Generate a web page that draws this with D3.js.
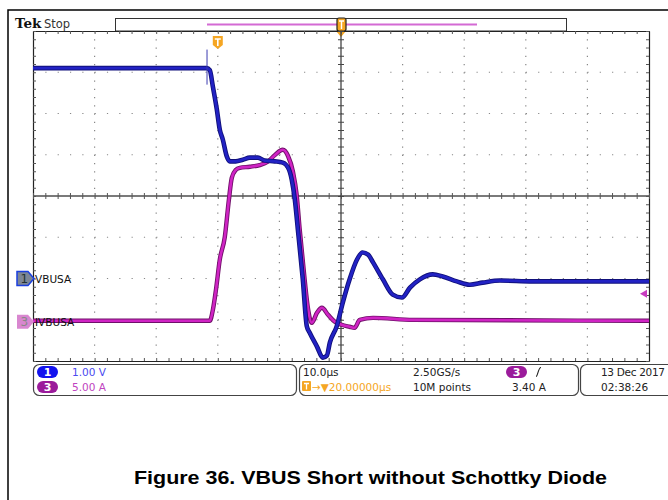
<!DOCTYPE html>
<html>
<head>
<meta charset="utf-8">
<script src="https://cdn.jsdelivr.net/npm/d3@7"></script>
<style>
  body { margin: 0; background: #fff; }
  text { font-family: "DejaVu Sans", sans-serif; }
</style>
</head>
<body>
<div id="chart"></div>
<script>
"use strict";

// channel 1 (VBUSA), volts vs time in µs relative to trigger
const ch1Time = [-30, -1.8, -1.3, -0.8, -0.16, 0.32, 0.81, 1.46, 1.95, 2.9, 4.06, 5.2, 6.5, 7.6, 9.25, 10.55,
  11.4, 12.0, 12.5, 13.0, 13.8, 14.45, 14.9, 16.1, 17.05, 17.7, 18.2, 19.3, 20.3, 21.4, 22.6, 23.5, 24.4, 25.2,
  26.8, 28.4, 29.9, 31.2, 32.8, 34.9, 36.5, 38.8, 40.9, 43.0, 45.8, 51.1, 70];
const ch1Volts = [5.1, 5.1, 5.05, 4.65, 4.1, 3.61, 3.37, 2.96, 2.84, 2.84, 2.88, 2.93, 2.93, 2.86, 2.84, 2.81,
  2.69, 2.4, 1.92, 1.19, -0.02, -1.16, -1.31, -1.65, -1.92, -1.87, -1.55, -1.16, -0.58, -0.02, 0.46, 0.63, 0.58, 0.39,
  -0.02, -0.39, -0.46, -0.22, -0.02, 0.1, 0.05, -0.07, -0.15, -0.1, -0.05, -0.07, -0.07];
// thin glitch on ch1 just before the trigger: time, min volts, max volts
const ch1Glitch = [-1.75, 4.7, 5.55];

// channel 3 (IVBUSA), amps vs time in µs
const ch3Time = [-30, -1.3, -0.8, -0.3, 0.32, 1.14, 1.8, 2.27, 2.9, 3.57, 5.2, 6.8, 8.1, 9.25, 10.55, 11.4, 12.2, 12.8,
  13.3, 14.1, 14.6, 15.26, 16.1, 16.9, 17.9, 19.0, 20.1, 21.4, 22.2, 23.05, 25.2, 31.7, 70];
const ch3Amps = [0.12, 0.12, 1.45, 3.88, 7.52, 10.3, 14.8, 17.45, 18.4, 18.67, 18.8, 19.0, 19.4, 20.2, 20.85, 20.1, 18.2, 15.4,
  11.15, 5.09, 1.82, -0.12, 1.09, 1.7, 0.85, 0, -0.36, -0.6, -0.73, 0.24, 0.48, 0.24, 0.12];

const ch1Scale = 1.0, ch1Offset = -2.0;   // V/div, divisions
const ch3Scale = 5.0, ch3Offset = -3.05;  // A/div, divisions
const trigLevel = 3.40;

const timeDomain = [-30, 70];   // 10 µs/div, position 20 µs
const xMajor = [-20, -10, 0, 10, 30, 40, 50, 60];
const yMajor = [-3, -2, -1, 1, 2, 3];

const msm = { width: 668, height: 500, left: 33, right: 649, top: 31, bottom: 361 };

const svg = d3.select("#chart").append("svg")
  .attr("width", msm.width).attr("height", msm.height);

const xScale = d3.scaleLinear().domain(timeDomain).range([msm.left, msm.right]);
const yDiv = d3.scaleLinear().domain([-4, 4]).range([msm.bottom, msm.top]);

// outer frame
svg.append("path").attr("d", "M8,500V10H668").attr("fill", "none")
  .attr("stroke", "#000").attr("stroke-width", 1.5);

// header
svg.append("text").attr("x", 15).attr("y", 28).style("font-family", "'DejaVu Serif', serif")
  .style("font-weight", "bold").style("font-size", "13.5px").attr("fill", "#111").text("Tek");
svg.append("text").attr("x", 44).attr("y", 28).style("font-size", "11.5px").attr("fill", "#333").text("Stop");

// record view bar
svg.append("rect").attr("x", 115.5).attr("y", 18.5).attr("width", 451).attr("height", 12.5)
  .attr("fill", "#fff").attr("stroke", "#333");
svg.append("line").attr("x1", 207).attr("x2", 477).attr("y1", 24.5).attr("y2", 24.5)
  .attr("stroke", "#d46ad4").attr("stroke-width", 2);
svg.append("rect").attr("x", 337).attr("y", 18).attr("width", 9).attr("height", 13).attr("rx", 2)
  .attr("fill", "#f5a623").attr("stroke", "#222").attr("stroke-width", 1.2);
svg.append("path").attr("d", "M339,21H344M341.5,21V29").attr("stroke", "#fff").attr("stroke-width", 1.4);
svg.append("path").attr("d", `M${xScale(20) - 5},31L${xScale(20) + 5},31L${xScale(20)},37Z`).attr("fill", "#f5a623");

// graticule dotted grid
const grid = svg.append("g");
grid.selectAll(".vg").data(xMajor).enter().append("line")
  .attr("x1", xScale).attr("x2", xScale).attr("y1", msm.top).attr("y2", msm.bottom)
  .attr("stroke", "#888").attr("stroke-width", 1.2).attr("stroke-dasharray", "1.2,7.05");
grid.selectAll(".hg").data(yMajor).enter().append("line")
  .attr("y1", yDiv).attr("y2", yDiv).attr("x1", msm.left).attr("x2", msm.right)
  .attr("stroke", "#888").attr("stroke-width", 1.2).attr("stroke-dasharray", "1.2,11.12");

// center lines
svg.append("line").attr("x1", msm.left).attr("x2", msm.right).attr("y1", yDiv(0)).attr("y2", yDiv(0))
  .attr("stroke", "#7a7a7a").attr("stroke-width", 2);
svg.append("line").attr("x1", xScale(20)).attr("x2", xScale(20)).attr("y1", msm.top).attr("y2", msm.bottom)
  .attr("stroke", "#333").attr("stroke-width", 1.2);

// minor ticks via axes
const xMinor = d3.range(-30, 70.01, 2);
const yMinor = d3.range(-4, 4.01, 0.2);
function styleAxis(g) {
  g.selectAll("text").remove();
  g.selectAll("line").attr("stroke", "#555");
  g.select(".domain").attr("stroke", "#222").attr("stroke-width", 1.2);
}
svg.append("g").attr("transform", `translate(0,${msm.top})`)
  .call(d3.axisBottom(xScale).tickValues(xMinor).tickSize(3).tickSizeOuter(0).tickFormat("")).call(styleAxis);
svg.append("g").attr("transform", `translate(0,${msm.bottom})`)
  .call(d3.axisTop(xScale).tickValues(xMinor).tickSize(3).tickSizeOuter(0).tickFormat("")).call(styleAxis);
svg.append("g").attr("transform", `translate(${msm.left},0)`)
  .call(d3.axisRight(yDiv).tickValues(yMinor).tickSize(3).tickSizeOuter(0).tickFormat("")).call(styleAxis);
svg.append("g").attr("transform", `translate(${msm.right},0)`)
  .call(d3.axisLeft(yDiv).tickValues(yMinor).tickSize(3).tickSizeOuter(0).tickFormat("")).call(styleAxis);
// center ticks
const cx = svg.append("g").attr("transform", `translate(0,${yDiv(0)})`)
  .call(d3.axisBottom(xScale).tickValues(xMinor).tickSize(3).tickSizeOuter(0).tickFormat(""));
cx.call(styleAxis); cx.select(".domain").remove();
cx.selectAll("line").attr("y1", -3).attr("stroke", "#555");
const cy = svg.append("g").attr("transform", `translate(${xScale(20)},0)`)
  .call(d3.axisRight(yDiv).tickValues(yMinor).tickSize(3).tickSizeOuter(0).tickFormat(""));
cy.call(styleAxis); cy.select(".domain").remove();
cy.selectAll("line").attr("x1", -3).attr("stroke", "#444");

// clip
svg.append("clipPath").attr("id", "plotClip").append("rect")
  .attr("x", msm.left).attr("y", msm.top).attr("width", msm.right - msm.left).attr("height", msm.bottom - msm.top);

const ch1Data = ch1Time.map((t, i) => ({ t: t, v: ch1Volts[i] }));
const ch3Data = ch3Time.map((t, i) => ({ t: t, v: ch3Amps[i] }));
const y1 = (v) => yDiv(v / ch1Scale + ch1Offset);
const y3 = (v) => yDiv(v / ch3Scale + ch3Offset);
const line1 = d3.line().x((d) => xScale(d.t)).y((d) => y1(d.v)).curve(d3.curveMonotoneX);
const line3 = d3.line().x((d) => xScale(d.t)).y((d) => y3(d.v)).curve(d3.curveMonotoneX);

const traces = svg.append("g").attr("clip-path", "url(#plotClip)");
traces.append("path").datum(ch3Data).attr("d", line3).attr("fill", "none")
  .attr("stroke", "#70106a").attr("stroke-width", 4.4);
traces.append("path").datum(ch3Data).attr("d", line3).attr("fill", "none")
  .attr("stroke", "#d024c4").attr("stroke-width", 2.6);
traces.append("path").datum(ch1Data).attr("d", line1).attr("fill", "none")
  .attr("stroke", "#10107a").attr("stroke-width", 4.6);
traces.append("path").datum(ch1Data).attr("d", line1).attr("fill", "none")
  .attr("stroke", "#2222c4").attr("stroke-width", 2.8);
traces.append("line").attr("x1", xScale(ch1Glitch[0])).attr("x2", xScale(ch1Glitch[0]))
  .attr("y1", y1(ch1Glitch[1])).attr("y2", y1(ch1Glitch[2])).attr("stroke", "#3a3ab0").attr("stroke-width", 1);

// trigger marker
const tx = xScale(0);
svg.append("path").attr("d", `M${tx - 5},36H${tx + 5}V45L${tx},49L${tx - 5},45Z`).attr("fill", "#f5a623");
svg.append("path").attr("d", `M${tx - 3},39H${tx + 3}M${tx},39V46`).attr("stroke", "#fff").attr("stroke-width", 1.6);

// trigger level arrow
const ty = y3(trigLevel);
svg.append("path").attr("d", `M${msm.right - 9},${ty}L${msm.right - 2},${ty - 4}V${ty + 4}Z`).attr("fill", "#c83cc0");

// channel ground markers
const m1 = yDiv(ch1Offset), m3 = yDiv(ch3Offset);
svg.append("path").attr("d", `M17,${m1 - 7}H28L34,${m1}L28,${m1 + 7}H17Z`)
  .attr("fill", "#7c8696").attr("stroke", "#1a3fe0").attr("stroke-width", 1.5);
svg.append("text").attr("x", 20.5).attr("y", m1 + 4.5).style("font-size", "12px").attr("fill", "#233").text("1");
svg.append("text").attr("x", 35).attr("y", m1 + 4).style("font-size", "10.5px").attr("fill", "#111").text("VBUSA");
svg.append("path").attr("d", `M17,${m3 - 7}H28L34,${m3}L28,${m3 + 7}H17Z`).attr("fill", "#d987d0");
svg.append("text").attr("x", 20.5).attr("y", m3 + 4.5).style("font-size", "12px").attr("fill", "#888").text("3");
svg.append("text").attr("x", 35).attr("y", m3 + 4).style("font-size", "10.5px").attr("fill", "#111").text("IVBUSA");

// info panels
const panelY = 364.5, panelH = 31;
[[33.5, 263], [299.5, 279], [580.5, 100]].forEach((p) => {
  svg.append("rect").attr("x", p[0]).attr("y", panelY).attr("width", p[1]).attr("height", panelH)
    .attr("rx", 6).attr("fill", "#fff").attr("stroke", "#444").attr("stroke-width", 1.2);
});
function pill(x, y, color, label) {
  svg.append("rect").attr("x", x).attr("y", y).attr("width", 21).attr("height", 12).attr("rx", 6).attr("fill", color);
  svg.append("text").attr("x", x + 10.5).attr("y", y + 10).attr("text-anchor", "middle")
    .style("font-size", "11px").style("font-weight", "bold").attr("fill", "#fff").text(label);
}
const fs = "10.5px";
pill(37, 366, "#1212ee", "1");
pill(37, 381, "#9b1b9b", "3");
svg.append("text").attr("x", 72).attr("y", 375.5).style("font-size", fs).attr("fill", "#4a4af0").text("1.00 V");
svg.append("text").attr("x", 72).attr("y", 390.5).style("font-size", fs).attr("fill", "#c044c0").text("5.00 A");

svg.append("text").attr("x", 303).attr("y", 375.5).style("font-size", fs).attr("fill", "#222").text("10.0µs");
svg.append("rect").attr("x", 302).attr("y", 381).attr("width", 9).attr("height", 10).attr("rx", 1).attr("fill", "#f5a623");
svg.append("path").attr("d", "M304,383.5H309M306.5,383.5V389.5").attr("stroke", "#fff").attr("stroke-width", 1.3);
svg.append("text").attr("x", 312).attr("y", 390.5).style("font-size", fs).attr("fill", "#f5a623").text("→▼20.00000µs");
svg.append("text").attr("x", 413).attr("y", 375.5).style("font-size", fs).attr("fill", "#222").text("2.50GS/s");
svg.append("text").attr("x", 413).attr("y", 390.5).style("font-size", fs).attr("fill", "#222").text("10M points");
pill(506, 366, "#9b1b9b", "3");
svg.append("path").attr("d", "M536,376.5C538,376.5 538,367.5 541,367.5").attr("fill", "none").attr("stroke", "#222").attr("stroke-width", 1.1);
svg.append("text").attr("x", 512).attr("y", 390.5).style("font-size", fs).attr("fill", "#222").text("3.40 A");
svg.append("text").attr("x", 601).attr("y", 375.5).style("font-size", fs).attr("fill", "#222")
  .attr("textLength", 64).attr("lengthAdjust", "spacing").text("13 Dec 2017");
svg.append("text").attr("x", 601).attr("y", 390.5).style("font-size", fs).attr("fill", "#222").text("02:38:26");

// caption
svg.append("text").attr("x", 134).attr("y", 484)
  .style("font-family", "'Liberation Sans', Arial, sans-serif").style("font-weight", "bold")
  .style("font-size", "19px").attr("fill", "#000")
  .attr("textLength", 473).attr("lengthAdjust", "spacingAndGlyphs")
  .text("Figure 36. VBUS Short without Schottky Diode");
</script>
</body>
</html>
